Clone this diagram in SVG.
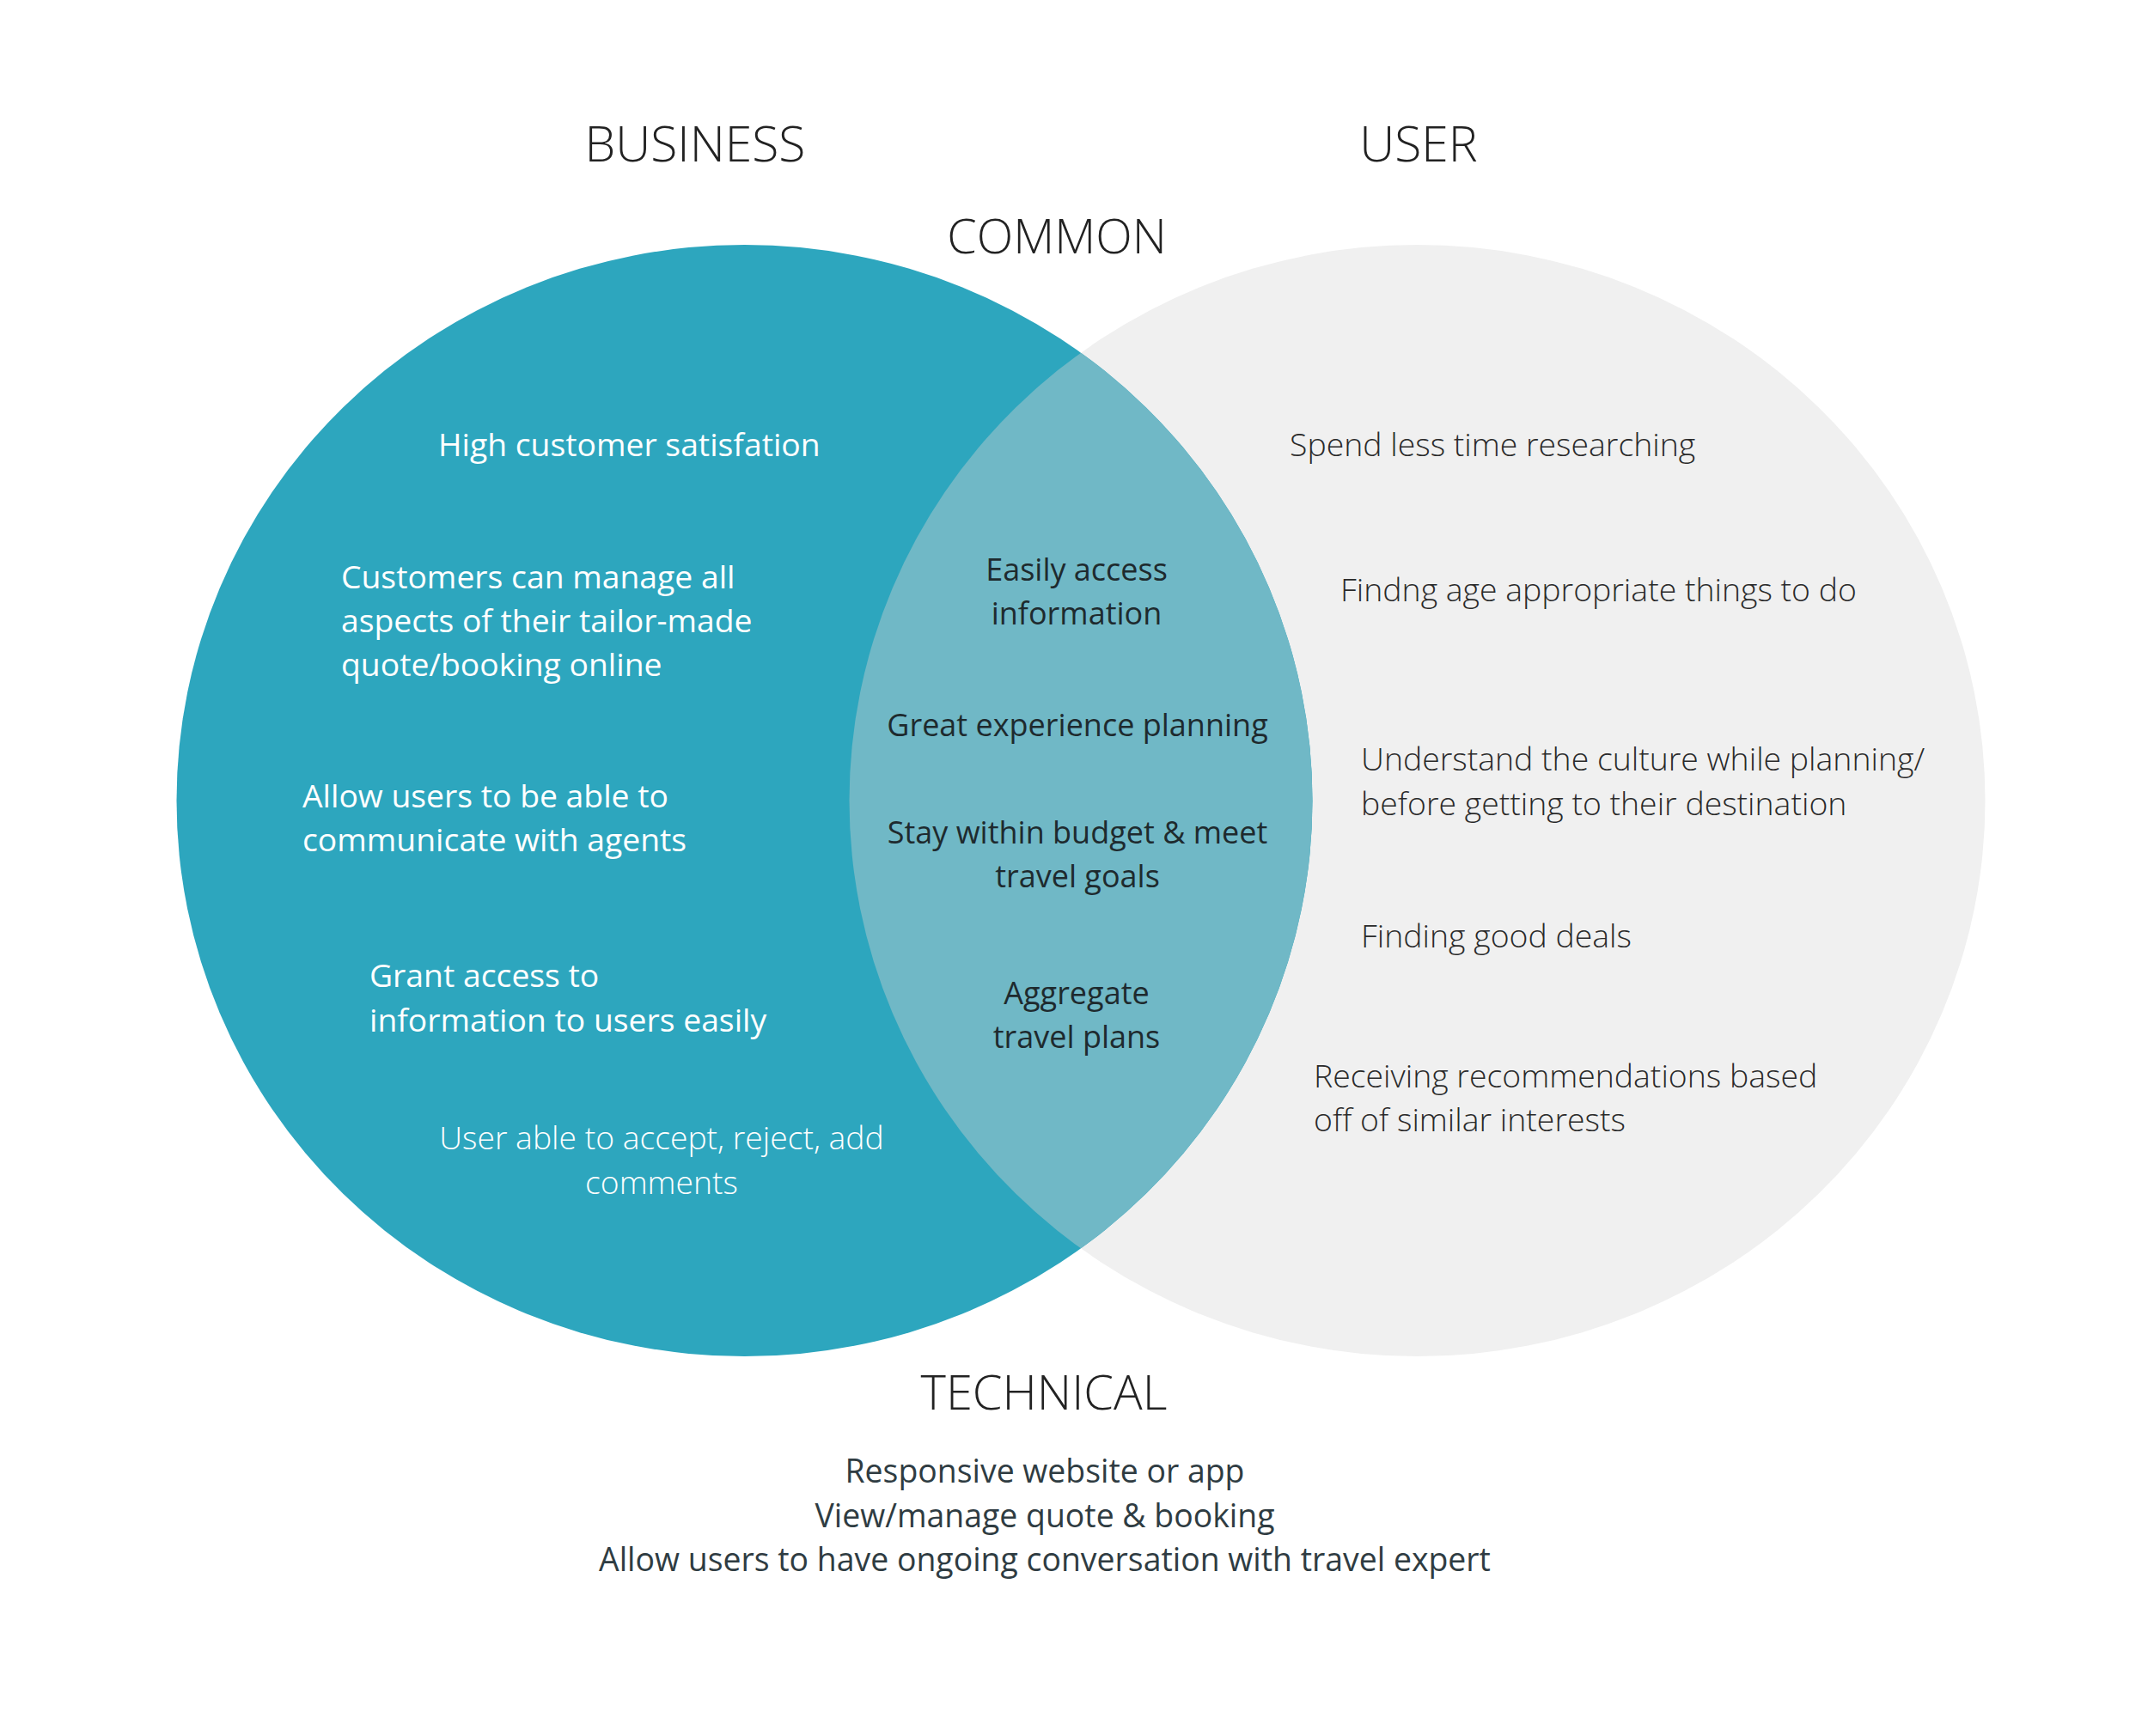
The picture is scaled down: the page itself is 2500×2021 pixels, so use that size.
<svg xmlns="http://www.w3.org/2000/svg" width="2500" height="2021" viewBox="0 0 2500 2021">
<style>
  text { font-family: "Open Sans", "Liberation Sans", sans-serif; }
  .title { font-size: 57px; font-weight: 300; fill: #222222; text-anchor: middle; }
  .biz { font-size: 37.3px; font-weight: 400; fill: #ffffff; }
  .bizlight { font-size: 37.3px; font-weight: 300; fill: #ffffff; text-anchor: middle; }
  .common { font-size: 36px; font-weight: 400; fill: #1e2a2e; text-anchor: middle; }
  .user { font-size: 37.4px; font-weight: 300; fill: #2a2a2a; }
  .tech { font-size: 37.4px; font-weight: 400; fill: #2f3c42; text-anchor: middle; }
</style>
<defs>
  <clipPath id="leftClip">
    <ellipse cx="866.5" cy="932" rx="661" ry="647"/>
  </clipPath>
</defs>
<rect width="2500" height="2021" fill="#ffffff"/>
<g id="user-circle">
  <ellipse cx="1649.5" cy="932" rx="661" ry="647" fill="#f0f0f0"/>
</g>
<g id="business-circle">
  <ellipse cx="866.5" cy="932" rx="661" ry="647" fill="#2da6be"/>
</g>
<g id="common-lens">
  <ellipse cx="1649.5" cy="932" rx="661" ry="647" fill="#70b8c6" clip-path="url(#leftClip)"/>
</g>
<g id="connectors"></g>
<g id="titles">
  <text class="title" x="809" y="188">BUSINESS</text>
  <text class="title" x="1651" y="188">USER</text>
  <text class="title" x="1230" y="295" style="font-size:55.6px">COMMON</text>
  <text class="title" x="1215" y="1641" style="font-size:56px">TECHNICAL</text>
</g>
<g id="business-items">
  <text class="biz" x="510" y="531">High customer satisfation</text>
  <text class="biz" x="397" y="685">Customers can manage all</text>
  <text class="biz" x="397" y="736">aspects of their tailor-made</text>
  <text class="biz" x="397" y="787">quote/booking online</text>
  <text class="biz" x="352" y="940">Allow users to be able to</text>
  <text class="biz" x="352" y="991">communicate with agents</text>
  <text class="biz" x="430" y="1149">Grant access to</text>
  <text class="biz" x="430" y="1201">information to users easily</text>
  <text class="bizlight" x="770" y="1338">User able to accept, reject, add</text>
  <text class="bizlight" x="770" y="1390">comments</text>
</g>
<g id="common-items">
  <text class="common" x="1253" y="676">Easily access</text>
  <text class="common" x="1253" y="727">information</text>
  <text class="common" x="1254" y="857">Great experience planning</text>
  <text class="common" x="1254" y="982">Stay within budget &amp; meet</text>
  <text class="common" x="1254" y="1033">travel goals</text>
  <text class="common" x="1253" y="1169">Aggregate</text>
  <text class="common" x="1253" y="1220">travel plans</text>
</g>
<g id="user-items">
  <text class="user" x="1501" y="531">Spend less time researching</text>
  <text class="user" x="1560" y="700">Findng age appropriate things to do</text>
  <text class="user" x="1584" y="897">Understand the culture while planning/</text>
  <text class="user" x="1584" y="949">before getting to their destination</text>
  <text class="user" x="1584" y="1103">Finding good deals</text>
  <text class="user" x="1529" y="1266">Receiving recommendations based</text>
  <text class="user" x="1529" y="1317">off of similar interests</text>
</g>
<g id="technical-items">
  <text class="tech" x="1216" y="1726">Responsive website or app</text>
  <text class="tech" x="1216" y="1778">View/manage quote &amp; booking</text>
  <text class="tech" x="1216" y="1829">Allow users to have ongoing conversation with travel expert</text>
</g>
</svg>
